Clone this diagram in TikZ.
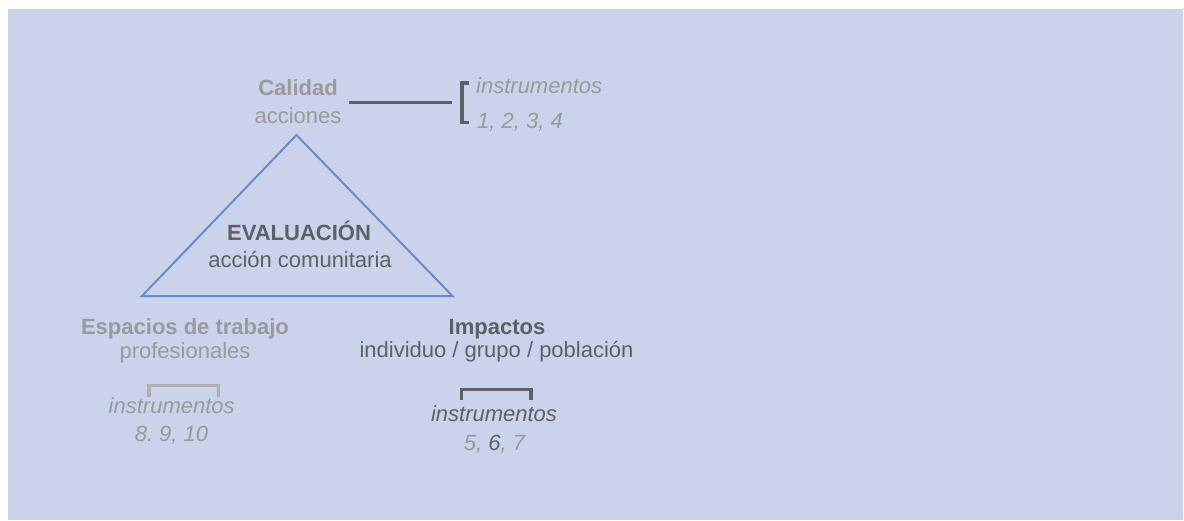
\documentclass[tikz,border=0pt]{standalone}
\usepackage{fontspec}
\setmainfont{Liberation Sans}
\frenchspacing
\definecolor{bgblue}{HTML}{CBD3EB}
\definecolor{lightgray}{HTML}{9A9A9C}
\definecolor{darkgray}{HTML}{5E6066}
\definecolor{triblue}{HTML}{6A8CCA}
\definecolor{brlight}{HTML}{B0B0B2}
\tikzset{
  txt/.style={anchor=base, inner sep=0pt, font=\fontsize{22}{26}\selectfont},
  hd/.style={txt, font=\fontsize{22}{26}\selectfont\bfseries},
  it/.style={txt, font=\fontsize{22}{26}\selectfont\itshape},
  lt/.style={text=lightgray},
  dk/.style={text=darkgray},
  tri/.style={draw=triblue, line width=2pt, line join=miter},
  darkline/.style={draw=darkgray, line width=3pt},
  lightbr/.style={draw=brlight, line width=3.2pt},
  darkbr/.style={draw=darkgray, line width=3.2pt}
}
\begin{document}
\begin{tikzpicture}[x=1pt,y=-1pt]
\useasboundingbox (0,0) rectangle (1184,520);
\fill[bgblue] (8,9) rectangle (1183,520);

% top: Calidad
\node[hd,lt] (calidad) at (298,95) {Calidad};
\node[txt,lt] (acciones) at (298,123) {acciones};
\coordinate (lineA) at (349,102.7);
\coordinate (lineB) at (452,102.7);
\draw[darkline] (lineA) -- (lineB);
\coordinate (brT) at (468.5,83);
\coordinate (brB) at (468.5,122.5);
\draw[darkline, line width=3.6pt] (brT) -| (461.8,102.5) |- (brB);
\node[it,lt,anchor=base west] (instTop) at (476,93.3) {instrumentos};
\node[it,lt,anchor=base west] (numTop) at (477,128.3) {1, 2, 3, 4};

% triangle
\coordinate (apex) at (296.5,135);
\coordinate (bl) at (142,296);
\coordinate (br) at (452.5,296);
\draw[tri] (apex) -- (bl) -- (br) -- cycle;
\node[hd,dk] (eval) at (299,240) {EVALUACIÓN};
\node[txt,dk] (accion) at (300,267.7) {acción comunitaria};

% bottom left
\node[hd,lt] (espacios) at (185,334.3) {Espacios de trabajo};
\node[txt,lt] (prof) at (185,358.3) {profesionales};
\draw[lightbr] (149,397) -- (149,385.7) -- (218.7,385.7) -- (218.7,397);
\node[it,lt] (instL) at (171.7,413.3) {instrumentos};
\node[it,lt] (numL) at (171.5,441) {8. 9, 10};

% bottom right
\node[hd,dk] (impactos) at (497,334.3) {Impactos};
\node[txt,dk] (indiv) at (496.5,357.5) {individuo / grupo / población};
\draw[darkbr] (461.5,400) -- (461.5,389.5) -- (531,389.5) -- (531,400);
\node[it,dk] (instR) at (494,421.7) {instrumentos};
\node[it,lt] (numR) at (494.5,450) {5, \textcolor{darkgray}{6}, 7};
\end{tikzpicture}
\end{document}
